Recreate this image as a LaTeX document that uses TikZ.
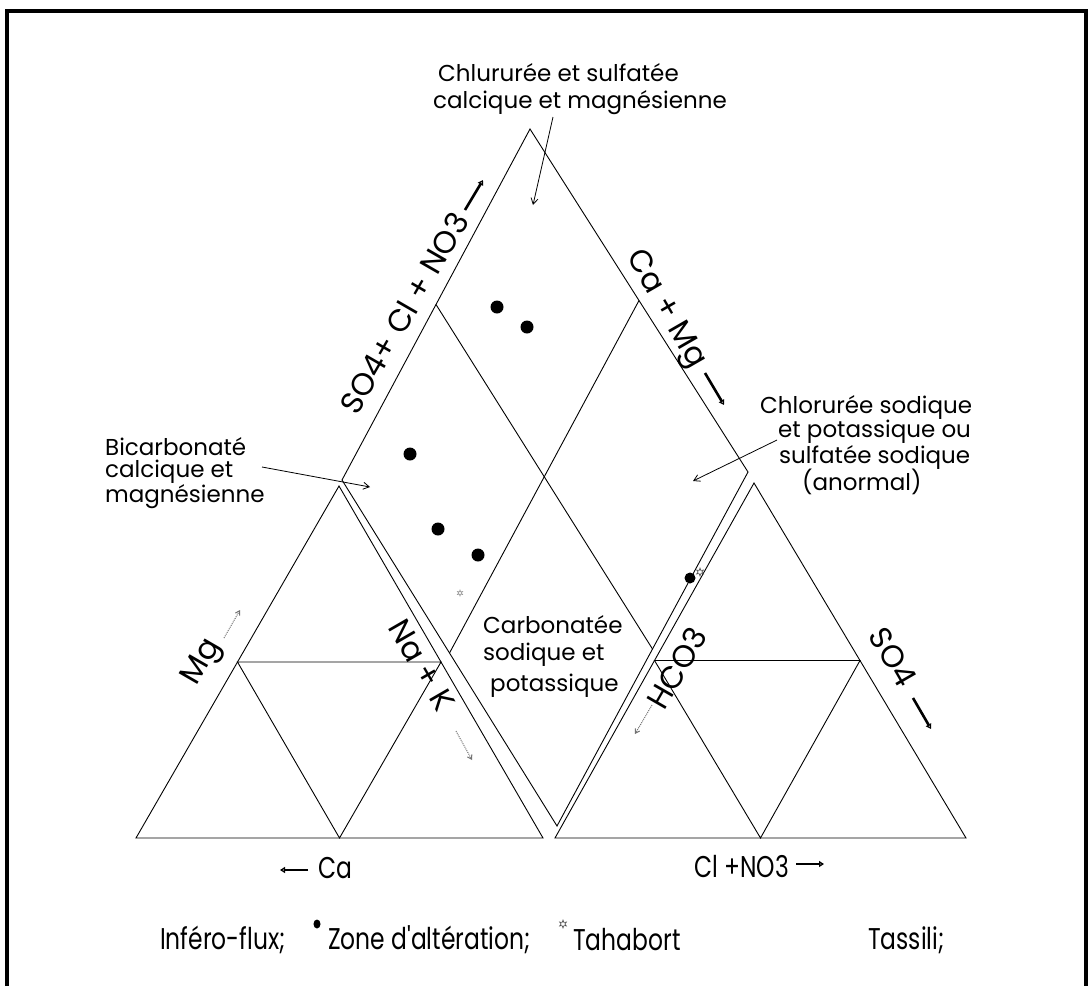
\documentclass[tikz,border=0pt]{standalone}
\usepackage{fontspec}
\setmainfont{Poppins}
\newfontfamily\condfont[FakeStretch=0.78]{Poppins}
\usetikzlibrary{arrows.meta,calc,shapes.geometric}
\tikzset{
  plotline/.style={line width=0.9pt, line join=miter},
  framestyle/.style={line width=3.5pt},
  axislab/.style={font=\fontsize{31}{33}\selectfont, inner sep=0pt},
  regionlab/.style={font=\fontsize{23}{25}\selectfont, inner sep=0pt, anchor=west},
  bottomlab/.style={font=\condfont\fontsize{30}{32}\selectfont, inner sep=0pt, anchor=west},
  datapt/.style={circle, fill=black, inner sep=0pt, minimum size=13pt},
  tahasym/.style={star, star points=6, star point ratio=2.2, draw=black!70, line width=0.6pt, inner sep=0pt, minimum size=8pt},
  labarrow/.style={line width=0.8pt, -{Straight Barb[length=6pt,width=7pt]}},
  boldarrow/.style={line width=2.6pt, -{Triangle[open, length=5pt, width=6pt]}},
  faintarrow/.style={black!55, line width=1pt, densely dotted, -{Straight Barb[length=4pt,width=5pt]}}
}
\begin{document}
\begin{tikzpicture}[x=1pt,y=-1pt]
\useasboundingbox (0,0) rectangle (1090,986);
% frame
\coordinate (F1) at (7,986);
\coordinate (F2) at (7,11);
\coordinate (F3) at (1086,11);
\coordinate (F4) at (1086,986);
\draw[framestyle] (F1) -- (F2) -- (F3) -- (F4);

% diamond
\coordinate (DT) at (530,129);
\coordinate (DL) at (342,480);
\coordinate (DR) at (748,472);
\coordinate (DB) at (557,826);
\draw[plotline] (DT) -- (DR) -- (DB) -- (DL) -- cycle;
\draw[plotline] ($(DT)!0.5!(DL)$) -- ($(DR)!0.5!(DB)$);
\draw[plotline] ($(DT)!0.5!(DR)$) -- ($(DL)!0.5!(DB)$);

% left triangle
\coordinate (LA) at (339,486);
\coordinate (LL) at (136,838);
\coordinate (LR) at (543,838);
\draw[plotline] (LA) -- (LR) -- (LL) -- cycle;
\draw[plotline] ($(LA)!0.5!(LL)$) -- ($(LA)!0.5!(LR)$) -- ($(LL)!0.5!(LR)$) -- cycle;

% right triangle
\coordinate (RA) at (754,483);
\coordinate (RL) at (555,838);
\coordinate (RR) at (966,838);
\draw[plotline] (RA) -- (RR) -- (RL) -- cycle;
\draw[plotline] ($(RA)!0.5!(RL)$) -- ($(RA)!0.5!(RR)$) -- ($(RL)!0.5!(RR)$) -- cycle;

% data points
\node[datapt] (p1) at (497,307) {};
\node[datapt] (p2) at (527,327) {};
\node[datapt] (p3) at (410,454) {};
\node[datapt] (p4) at (438,529) {};
\node[datapt] (p5) at (478,555) {};
\node[circle, fill=black, inner sep=0pt, minimum size=11pt] (p6) at (690,578) {};
\node[tahasym] (t1) at (700,572) {};
\node[tahasym, draw=black!40, minimum size=6pt] (t2) at (460,593) {};

% region labels
\node[regionlab] (top1) at (438,73) {Chlururée et sulfatée};
\node[regionlab] (top2) at (433,103) {calcique et magnésienne};
\coordinate (topA) at (553,117);
\coordinate (topB) at (533,205);
\draw[labarrow] (topA) -- (topB);

\node[regionlab] (bic1) at (105,447) {Bicarbonaté};
\node[regionlab] (bic2) at (105,472) {calcique et};
\node[regionlab] (bic3) at (105,497) {magnésienne};
\coordinate (bicA) at (262,467);
\coordinate (bicB) at (370,487);
\draw[labarrow] (bicA) -- (bicB);

\node[regionlab] (chl1) at (760,407) {Chlorurée sodique};
\node[regionlab] (chl2) at (778,432) {et potassique ou};
\node[regionlab] (chl3) at (779,457) {sulfatée sodique};
\node[regionlab] (chl4) at (802,482) {(anormal)};
\coordinate (chlA) at (777,440);
\coordinate (chlB) at (693,481);
\draw[labarrow] (chlA) -- (chlB);

\node[regionlab] (car1) at (483,625) {Carbonatée};
\node[regionlab] (car2) at (483,655) {sodique et};
\node[regionlab] (car3) at (490,686) {potassique};

% axis labels
\node[axislab, rotate=60] (ax1) at (404,313) {SO4+ Cl + NO3};
\coordinate (ax1A) at (465,210);
\coordinate (ax1B) at (483,180);
\draw[boldarrow] (ax1A) -- (ax1B);

\node[axislab, rotate=-60] (ax2) at (665,310) {Ca + Mg};
\coordinate (ax2A) at (705,373);
\coordinate (ax2B) at (724,405);
\draw[boldarrow] (ax2A) -- (ax2B);

\node[axislab, rotate=60] (ax3) at (203,663) {Mg};
\coordinate (ax3A) at (224,638);
\coordinate (ax3B) at (240,610);
\draw[faintarrow] (ax3A) -- (ax3B);

\node[axislab, rotate=-60] (ax4) at (422,665) {Na + K};
\coordinate (ax4A) at (456,731);
\coordinate (ax4B) at (472,760);
\draw[faintarrow] (ax4A) -- (ax4B);

\node[axislab, rotate=60] (ax5) at (677,668) {HCO3};
\coordinate (ax5A) at (652,705);
\coordinate (ax5B) at (635,734);
\draw[faintarrow] (ax5A) -- (ax5B);

\node[axislab, rotate=-60] (ax6) at (893,657) {SO4};
\coordinate (ax6A) at (913,698);
\coordinate (ax6B) at (931,729);
\draw[boldarrow] (ax6A) -- (ax6B);

% bottom axis labels
\node[bottomlab] (ca) at (318,868) {Ca};
\coordinate (caA) at (308,870);
\coordinate (caB) at (280,870);
\draw[boldarrow] (caA) -- (caB);

\node[bottomlab] (cl) at (694,866) {Cl +NO3};
\coordinate (clA) at (796,864);
\coordinate (clB) at (824,864);
\draw[boldarrow] (clA) -- (clB);

% legend
\node[bottomlab] (lg1) at (160,940) {Inféro-flux;};
\node[ellipse, fill=black, inner sep=0pt, minimum width=7pt, minimum height=9pt] (lgdot) at (317,924) {};
\node[bottomlab] (lg2) at (328,940) {Zone d'altération;};
\node[tahasym] (lgstar) at (563,924) {};
\node[bottomlab] (lg3) at (573,940) {Tahabort};
\node[bottomlab] (lg4) at (868,940) {Tassili;};
\end{tikzpicture}
\end{document}
